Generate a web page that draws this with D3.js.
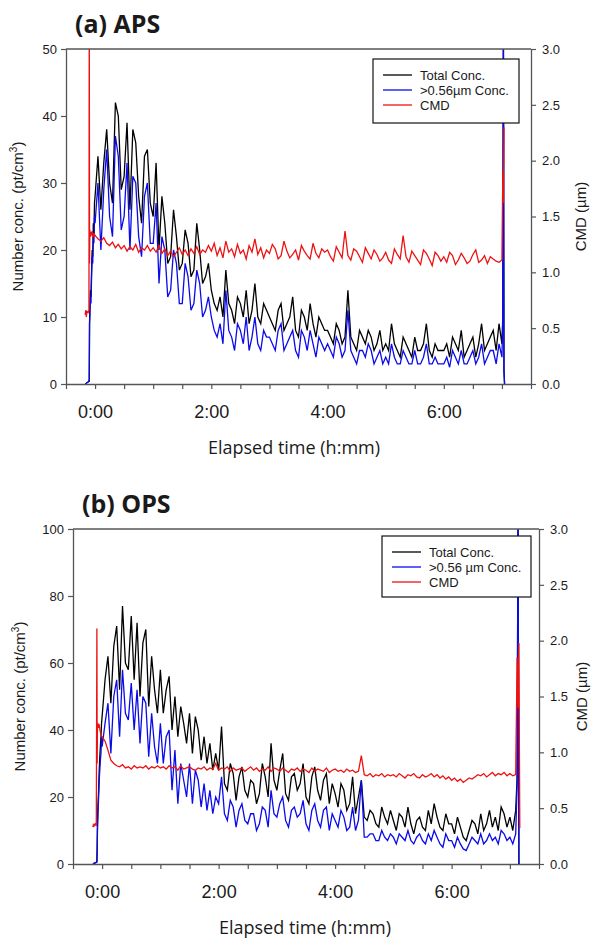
<!DOCTYPE html>
<html>
<head>
<meta charset="utf-8">
<script src="https://cdn.jsdelivr.net/npm/d3@7"></script>
<style>
  body { margin: 0; background: #fff; }
  svg text { font-family: "Liberation Sans", Arial, sans-serif; fill: #1a1a1a; }
  .title { font-family: "Open Sans", sans-serif; font-weight: 700; font-size: 25px; }
  .xlab { font-family: "Open Sans", sans-serif; font-size: 18px; }
</style>
</head>
<body>
<div id="chart"></div>
<script>
// time axis (hours) and tick labels
let xTickHours = [0, 2, 4, 6];
let xTickLabels = ["0:00", "2:00", "4:00", "6:00"];
let xMinorTicks = [-0.5, 0, 0.5, 1, 1.5, 2, 2.5, 3, 3.5, 4, 4.5, 5, 5.5, 6, 6.5, 7, 7.5];
let cmdTicks = [0, 0.5, 1, 1.5, 2, 2.5, 3];
let seriesNames = ["Total Conc.", ">0.56\u00b5m Conc.", "CMD"];
let seriesNamesB = ["Total Conc.", ">0.56 \u00b5m Conc.", "CMD"];
let step = 0.05; // 3 min sampling of the main record

// ---- (a) APS ----
let apsPreT = [-0.17, -0.16, -0.15, -0.14, -0.12, -0.105, -0.1, -0.095, -0.09, -0.08, -0.07, -0.06, -0.05, -0.04, -0.03, -0.02, -0.01];
let apsPreTotal = [0, 0, 0.1, 0.2, 0.3, 0.5, 0.5, 9, 11, 14, 13, 17, 20, 19, 24, 22, 27];
let apsPreBig = [0, 0, 0.1, 0.2, 0.3, 0.4, 0.4, 9, 10, 13, 12, 16, 19, 18, 22, 21, 25];
let apsPreCmd = [0.62, 0.66, 0.6, 0.65, 0.64, 0.66, 3.6, 1.08, 1.38, 1.32, 1.36, 1.33, 1.37, 1.31, 1.35, 1.32, 1.34];

let apsTotal = [
  28, 34, 26, 33, 38, 30, 27, 42, 40, 29, 31, 39, 26, 38, 36, 28, 24, 34, 35, 27,
  25, 33, 20, 28, 24, 18, 19, 26, 22, 17, 18, 23, 21, 16, 17, 24, 20, 15, 16, 18,
  14, 12, 11, 13, 10, 17, 12, 11, 9, 13, 12, 10, 14, 9, 11, 15, 10, 9, 12, 11,
  10, 9, 8, 11, 12, 8, 9, 10, 13, 8, 7, 11, 10, 8, 12, 9, 7, 10, 9, 8,
  8, 7, 6, 9, 8, 6, 7, 14, 7, 6, 5, 8, 7, 6, 8, 7, 5, 6, 8, 5,
  6, 5, 9, 6, 5, 4, 7, 6, 5, 4, 7, 5, 5, 6, 9, 5, 4, 6, 5, 5,
  5, 6, 4, 7, 6, 5, 8, 4, 5, 6, 7, 4, 6, 9, 5, 6, 7, 8, 5, 9, 6
];
let apsBig = [
  24, 30, 20, 29, 35, 25, 22, 37, 34, 23, 25, 33, 20, 31, 30, 22, 19, 28, 30, 21,
  21, 27, 15, 22, 20, 13, 14, 20, 18, 12, 12, 18, 16, 11, 12, 17, 15, 10, 11, 13,
  10, 8, 7, 9, 6, 14, 8, 7, 5, 9, 8, 6, 10, 5, 7, 10, 6, 5, 8, 7,
  7, 6, 5, 8, 9, 5, 6, 7, 8, 5, 4, 8, 7, 5, 8, 6, 4, 7, 6, 5,
  6, 5, 4, 7, 6, 4, 5, 11, 5, 4, 3, 5, 5, 4, 6, 5, 3, 4, 5, 3,
  4, 3, 6, 4, 3, 3, 5, 4, 3, 3, 5, 3, 3, 4, 6, 3, 3, 4, 3, 3,
  3, 4, 2.5, 5, 4, 3, 5, 3, 3, 4, 5, 3, 4, 6, 3, 4, 5, 5, 3, 6, 4
];
let apsCmd = [
  1.33, 1.30, 1.28, 1.31, 1.26, 1.24, 1.27, 1.22, 1.25, 1.21, 1.24, 1.19, 1.23, 1.20, 1.25, 1.18, 1.22, 1.20, 1.24, 1.19,
  1.22, 1.18, 1.24, 1.17, 1.21, 1.15, 1.19, 1.14, 1.18, 1.22, 1.16, 1.20, 1.15, 1.21, 1.17, 1.23, 1.16, 1.20, 1.18, 1.24,
  1.19, 1.26, 1.15, 1.22, 1.13, 1.28, 1.18, 1.21, 1.14, 1.25, 1.17, 1.20, 1.12, 1.24, 1.18, 1.30, 1.16, 1.22, 1.13, 1.20,
  1.17, 1.25, 1.21, 1.12, 1.15, 1.28, 1.19, 1.13, 1.16, 1.20, 1.11, 1.24, 1.19, 1.15, 1.12, 1.26, 1.17, 1.13, 1.21, 1.18,
  1.20, 1.14, 1.10, 1.23, 1.18, 1.13, 1.37, 1.15, 1.11, 1.21, 1.19, 1.14, 1.09, 1.22, 1.17, 1.12, 1.20, 1.16, 1.10, 1.13,
  1.18, 1.11, 1.08, 1.21, 1.16, 1.12, 1.33, 1.14, 1.09, 1.19, 1.15, 1.11, 1.07, 1.20, 1.17, 1.12, 1.06, 1.18, 1.15, 1.10,
  1.14, 1.09, 1.18, 1.15, 1.07, 1.11, 1.17, 1.13, 1.08, 1.10, 1.16, 1.20, 1.09, 1.11, 1.15, 1.08, 1.14, 1.12, 1.10, 1.09, 1.11
];
let apsPostT = [7.015, 7.025, 7.035, 7.045];
let apsPostTotal = [10, 55, 2, 0];
let apsPostBig = [10, 55, 2, 0];
let apsPostCmd = [1.9, 1.62, 2.3, null];

// ---- (b) OPS ----
let opsPreT = [-0.16, -0.15, -0.14, -0.12, -0.1, -0.09, -0.085, -0.08, -0.07, -0.06, -0.05, -0.04, -0.03, -0.02, -0.01];
let opsPreTotal = [0, 0, 0.2, 0.3, 0.5, 0.6, 5, 12, 18, 22, 28, 32, 35, 38, 42];
let opsPreBig = [0, 0, 0.2, 0.3, 0.5, 0.6, 4, 10, 16, 20, 25, 28, 31, 33, 38];
let opsPreCmd = [0.33, 0.35, 0.34, 0.36, 0.34, 2.11, 0.9, 1.24, 1.26, 1.22, 1.25, 1.21, 1.18, 1.16, 1.14];

let opsTotal = [
  44, 55, 62, 48, 65, 71, 52, 77, 60, 58, 74, 55, 72, 50, 66, 70, 47, 62, 52, 45,
  58, 45, 52, 56, 40, 50, 38, 47, 42, 36, 45, 33, 44, 40, 31, 38, 30, 36, 28, 33,
  28, 41, 24, 22, 30, 27, 19, 26, 29, 22, 20, 25, 24, 18, 21, 30, 26, 20, 36, 25,
  22, 28, 33, 21, 19, 26, 27, 22, 24, 30, 20, 18, 26, 29, 22, 19, 25, 27, 18, 24,
  21, 17, 24, 22, 16, 18, 26, 15, 20, 25, 14, 13, 16, 15, 12, 11, 17, 14, 12, 16,
  13, 10, 15, 14, 11, 17, 12, 9, 13, 14, 11, 10, 16, 12, 18, 14, 11, 10, 15, 12,
  12, 9, 14, 11, 8, 7, 10, 13, 12, 9, 15, 10, 12, 16, 11, 14, 10, 17, 15, 11,
  14, 10, 16
];
let opsBig = [
  35, 42, 48, 33, 50, 55, 38, 58, 45, 43, 54, 40, 52, 36, 50, 48, 32, 45, 35, 30,
  42, 30, 38, 40, 22, 34, 18, 30, 25, 20, 30, 18, 28, 25, 17, 24, 16, 22, 15, 20,
  18, 26, 15, 13, 19, 17, 11, 16, 18, 13, 12, 15, 15, 10, 12, 17, 16, 11, 22, 15,
  14, 18, 20, 13, 11, 16, 17, 14, 15, 19, 12, 10, 16, 18, 13, 11, 16, 17, 10, 15,
  13, 11, 16, 14, 10, 11, 17, 10, 13, 25, 8, 8, 9, 9, 7, 7, 10, 8, 7, 9,
  8, 6, 9, 8, 7, 10, 7, 6, 8, 9, 7, 6, 9, 7, 10, 8, 6, 5, 9, 7,
  7, 5, 8, 6, 4.5, 4, 6, 8, 7, 6, 9, 6, 7, 9, 7, 8, 6, 10, 9, 7,
  8, 6, 9
];
let opsCmd = [
  1.14, 1.10, 1.02, 0.93, 0.90, 0.88, 0.87, 0.89, 0.86, 0.87, 0.85, 0.88, 0.86, 0.87, 0.86, 0.88, 0.85, 0.87, 0.86, 0.88,
  0.86, 0.87, 0.85, 0.88, 0.86, 0.87, 0.84, 0.88, 0.85, 0.86, 0.87, 0.85, 0.84, 0.86, 0.85, 0.87, 0.84, 0.86, 0.85, 0.90,
  0.84, 0.86, 0.85, 0.87, 0.83, 0.86, 0.84, 0.85, 0.86, 0.83, 0.85, 0.87, 0.84, 0.86, 0.83, 0.85, 0.84, 0.87, 0.83, 0.86,
  0.85, 0.83, 0.86, 0.84, 0.82, 0.85, 0.84, 0.86, 0.83, 0.85, 0.84, 0.82, 0.86, 0.83, 0.85, 0.84, 0.83, 0.86, 0.82, 0.84,
  0.85, 0.83, 0.84, 0.82, 0.85, 0.83, 0.84, 0.82, 0.83, 0.97, 0.80, 0.79, 0.81, 0.78, 0.80, 0.79, 0.81, 0.78, 0.80, 0.79,
  0.80, 0.78, 0.81, 0.79, 0.77, 0.80, 0.79, 0.81, 0.78, 0.77, 0.80, 0.78, 0.79, 0.81, 0.78, 0.80, 0.77, 0.79, 0.76, 0.78,
  0.75, 0.77, 0.74, 0.76, 0.73, 0.75, 0.77, 0.76, 0.78, 0.80, 0.79, 0.81, 0.78, 0.80, 0.82, 0.79, 0.81, 0.80, 0.82, 0.79,
  0.81, 0.79, 0.80
];
let opsPostT = [7.125, 7.14, 7.155, 7.17];
let opsPostTotal = [26, 110, 0, 0];
let opsPostBig = [24, 110, 0, 0];
let opsPostCmd = [1.85, 1.4, 1.98, 0.32];

let colors = ["#000000", "#0a0aeb", "#ee1111"];

function buildTimes(pre, n, post) {
  return pre.concat(d3.range(n).map(i => i * step)).concat(post);
}

function drawPanel(svg, p) {
  let x = d3.scaleLinear().domain([-0.5, 7.5]).range([p.left, p.right]);
  let yL = d3.scaleLinear().domain([0, p.yMax]).range([p.bottom, p.top]);
  let yR = d3.scaleLinear().domain([0, 3]).range([p.bottom, p.top]);

  let times = buildTimes(p.preT, p.total.length, p.postT);
  let totals = p.preTotal.concat(p.total, p.postTotal);
  let bigs = p.preBig.concat(p.big, p.postBig);
  let cmds = p.preCmd.concat(p.cmd, p.postCmd);

  svg.append('clipPath').attr('id', 'clip' + p.id)
     .append('rect')
     .attr('x', p.left).attr('y', p.top)
     .attr('width', p.right - p.left).attr('height', p.bottom - p.top);

  let g = svg.append('g').attr('clip-path', 'url(#clip' + p.id + ')');

  let lineL = d3.line()
    .defined(d => d[1] != null)
    .x(d => x(d[0])).y(d => yL(d[1]));
  let lineR = d3.line()
    .defined(d => d[1] != null)
    .x(d => x(d[0])).y(d => yR(d[1]));

  g.append('path').datum(d3.zip(times, totals))
   .attr('d', lineL).attr('fill', 'none').attr('stroke', colors[0]).attr('stroke-width', 1.3);
  g.append('path').datum(d3.zip(times, bigs))
   .attr('d', lineL).attr('fill', 'none').attr('stroke', colors[1]).attr('stroke-width', 1.3);
  g.append('path').datum(d3.zip(times, cmds))
   .attr('d', lineR).attr('fill', 'none').attr('stroke', colors[2]).attr('stroke-width', 1.3);

  // top frame line
  svg.append('line')
     .attr('x1', p.left).attr('x2', p.right)
     .attr('y1', p.top).attr('y2', p.top)
     .attr('stroke', '#555').attr('stroke-width', 1.3);

  let axL = svg.append('g').attr('transform', `translate(${p.left},0)`)
     .call(d3.axisLeft(yL).tickValues(p.yTicks).tickSize(5).tickSizeOuter(0).tickPadding(4));
  let axR = svg.append('g').attr('transform', `translate(${p.right},0)`)
     .call(d3.axisRight(yR).tickValues(cmdTicks).tickSize(5).tickSizeOuter(0).tickPadding(6)
       .tickFormat(d3.format('.1f')));
  let axB = svg.append('g').attr('transform', `translate(0,${p.bottom})`)
     .call(d3.axisBottom(x).tickValues(xMinorTicks).tickSize(5).tickSizeOuter(0).tickPadding(16)
       .tickFormat(d => {
         let k = xTickHours.indexOf(d);
         return k >= 0 ? xTickLabels[k] : "";
       }));

  [axL, axR, axB].forEach(a => {
    a.select('.domain').attr('stroke', '#555').attr('stroke-width', 1.3);
    a.selectAll('.tick line').attr('stroke', '#555').attr('stroke-width', 1.2);
  });
  axL.selectAll('text').attr('font-size', 13).attr('font-family', '"Liberation Sans", Arial, sans-serif').attr('fill', '#222');
  axR.selectAll('text').attr('font-size', 13).attr('font-family', '"Liberation Sans", Arial, sans-serif').attr('fill', '#222');
  axB.selectAll('text').attr('font-size', 18).attr('font-family', '"Open Sans", sans-serif').attr('fill', '#222');

  // titles
  svg.append('text').classed('title', true)
     .attr('x', p.titleX).attr('y', p.titleY).text(p.title);

  svg.append('text').classed('xlab', true)
     .attr('x', p.xLabX).attr('y', p.xLabY)
     .attr('text-anchor', 'middle')
     .text('Elapsed time (h:mm)');

  let yl = svg.append('text')
     .attr('transform', `translate(${p.yLabX},${(p.top + p.bottom) / 2}) rotate(-90)`)
     .attr('text-anchor', 'middle')
     .attr('font-size', 15);
  yl.append('tspan').text('Number conc. (pt/cm');
  yl.append('tspan').attr('dy', -6).attr('font-size', 10).text('3');
  yl.append('tspan').attr('dy', 6).text(')');

  svg.append('text')
     .attr('transform', `translate(${p.rLabX},${(p.top + p.bottom) / 2}) rotate(-90)`)
     .attr('text-anchor', 'middle')
     .attr('font-size', 15)
     .text('CMD (\u00b5m)');

  // legend
  let lg = svg.append('g');
  lg.append('rect')
    .attr('x', p.legend[0]).attr('y', p.legend[1])
    .attr('width', p.legend[2]).attr('height', p.legend[3])
    .attr('fill', '#fff').attr('stroke', '#111').attr('stroke-width', 1.2);
  p.names.forEach((name, i) => {
    let yy = p.legend[1] + 16 + i * 15;
    lg.append('line')
      .attr('x1', p.legend[0] + 10).attr('x2', p.legend[0] + 39)
      .attr('y1', yy).attr('y2', yy)
      .attr('stroke', colors[i]).attr('stroke-width', 1.3);
    lg.append('text')
      .attr('x', p.legend[0] + 47).attr('y', yy + 4.5)
      .attr('font-size', 13)
      .text(name);
  });
}

function makeGraph() {
  let w = 595, h = 938;
  let svg = d3.select('#chart').append('svg')
              .attr('width', w).attr('height', h);

  drawPanel(svg, {
    id: 'a', title: '(a) APS', titleX: 75, titleY: 33,
    left: 66, right: 531, top: 49, bottom: 384,
    yMax: 50, yTicks: [0, 10, 20, 30, 40, 50],
    preT: apsPreT, preTotal: apsPreTotal, preBig: apsPreBig, preCmd: apsPreCmd,
    total: apsTotal, big: apsBig, cmd: apsCmd,
    postT: apsPostT, postTotal: apsPostTotal, postBig: apsPostBig, postCmd: apsPostCmd,
    xLabX: 294, xLabY: 454, yLabX: 23, rLabX: 586,
    legend: [373, 59, 146, 64], names: seriesNames
  });

  drawPanel(svg, {
    id: 'b', title: '(b) OPS', titleX: 82, titleY: 513,
    left: 73, right: 539, top: 529, bottom: 864,
    yMax: 100, yTicks: [0, 20, 40, 60, 80, 100],
    preT: opsPreT, preTotal: opsPreTotal, preBig: opsPreBig, preCmd: opsPreCmd,
    total: opsTotal, big: opsBig, cmd: opsCmd,
    postT: opsPostT, postTotal: opsPostTotal, postBig: opsPostBig, postCmd: opsPostCmd,
    xLabX: 305, xLabY: 934, yLabX: 25, rLabX: 587,
    legend: [382, 536, 149, 61], names: seriesNamesB
  });
}

window.onload = function() {
  makeGraph();
};
</script>
</body>
</html>
